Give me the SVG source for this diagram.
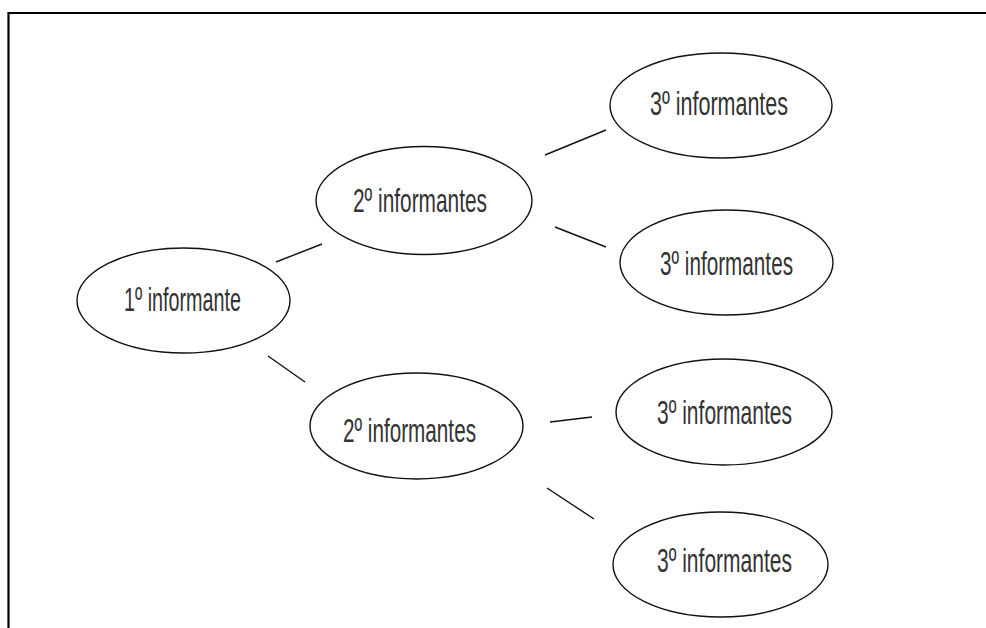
<svg xmlns="http://www.w3.org/2000/svg" width="986" height="628" viewBox="0 0 986 628">
<style>
.n ellipse{fill:#fff;stroke:#111;stroke-width:1.4}
.n text{font-family:"Liberation Sans",Arial,sans-serif;font-size:33px;fill:#333}
#edges line{stroke:#111;stroke-width:1.4}
</style>
<rect width="986" height="628" fill="#fff"/>
<path d="M8.5,630 V13 H990" fill="none" stroke="#000" stroke-width="2.2"/>
<g id="edges">
<line x1="276" y1="262" x2="322" y2="244"/>
<line x1="268" y1="356" x2="305" y2="382"/>
<line x1="545" y1="155" x2="606" y2="130"/>
<line x1="555" y1="227" x2="606" y2="247"/>
<line x1="550" y1="422" x2="592" y2="417"/>
<line x1="547" y1="488" x2="594" y2="519"/>
</g>
<g id="n1" class="n"><ellipse cx="183.5" cy="300.5" rx="106.5" ry="52.5"/><text x="124" y="311" textLength="117" lengthAdjust="spacingAndGlyphs">1º informante</text></g>
<g id="n2a" class="n"><ellipse cx="424" cy="200.5" rx="108" ry="54"/><text x="353" y="212" textLength="134" lengthAdjust="spacingAndGlyphs">2º informantes</text></g>
<g id="n2b" class="n"><ellipse cx="416.5" cy="426" rx="106.5" ry="53"/><text x="343" y="442" textLength="133" lengthAdjust="spacingAndGlyphs">2º informantes</text></g>
<g id="n3a" class="n"><ellipse cx="721" cy="105.5" rx="111" ry="52.5"/><text x="650" y="115" textLength="138" lengthAdjust="spacingAndGlyphs">3º informantes</text></g>
<g id="n3b" class="n"><ellipse cx="726.5" cy="262.5" rx="106.5" ry="52.5"/><text x="660" y="275" textLength="133" lengthAdjust="spacingAndGlyphs">3º informantes</text></g>
<g id="n3c" class="n"><ellipse cx="724" cy="412" rx="108" ry="53"/><text x="657" y="424" textLength="135" lengthAdjust="spacingAndGlyphs">3º informantes</text></g>
<g id="n3d" class="n"><ellipse cx="720.5" cy="564.5" rx="107.5" ry="52.5"/><text x="657" y="572" textLength="135" lengthAdjust="spacingAndGlyphs">3º informantes</text></g>
</svg>
